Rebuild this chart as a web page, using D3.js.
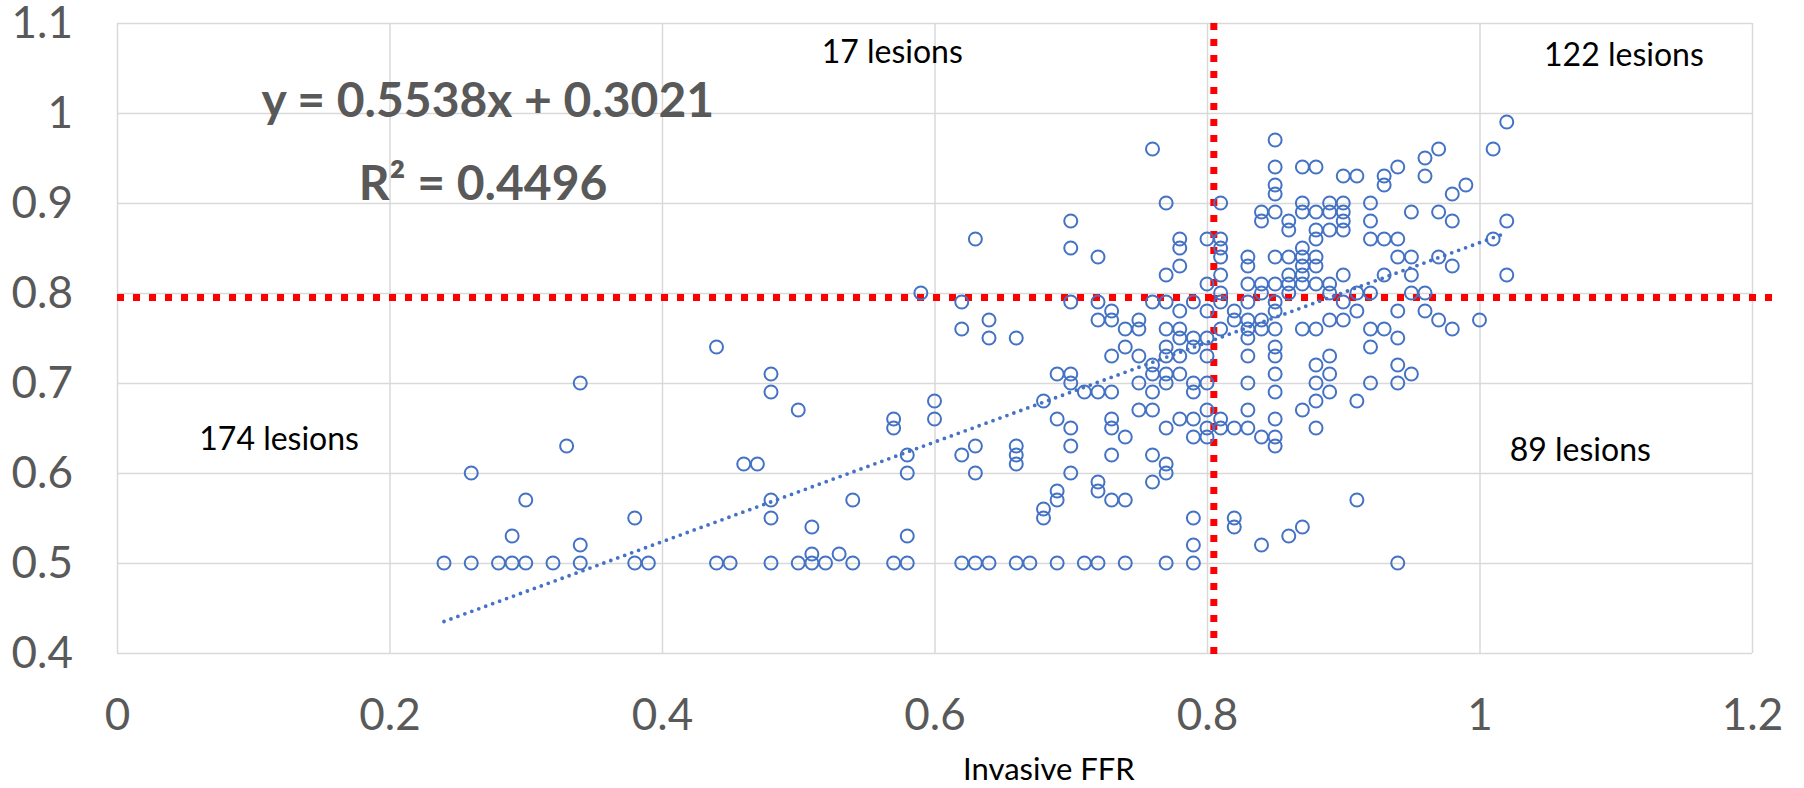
<!DOCTYPE html>
<head>
  <meta charset="utf-8">
  <script src="https://d3js.org/d3.v7.min.js"></script>
  <style>
    body { margin:0; background-color: white; }
    text { font-family: 'Lato', sans-serif; }
    .grid line { stroke: #d9d9d9; stroke-width: 1.5px; }
    .grid path { display: none; }
    .tick text { fill: #595959; font-size: 44px; }
    .lesions { font-size: 32px; fill: #000; }
    .fit { font-size: 48px; font-weight: bold; fill: #595959; }
  </style>
</head>
<body>
  <svg id="chart" width="1804" height="788"></svg>
  <script>
  // invasive FFR (x) and the matching CT value (y), one entry per lesion
  var ffr = [
    0.24, 0.26,0.26, 0.28, 0.29,0.29, 0.30,0.30, 0.32, 0.33, 0.34,0.34,0.34, 0.38,0.38, 0.39,
    0.44,0.44, 0.45, 0.46, 0.47, 0.48,0.48,0.48,0.48,0.48, 0.50,0.50, 0.51,0.51,0.51, 0.52, 0.53,
    0.54,0.54, 0.57,0.57,0.57, 0.58,0.58,0.58,0.58, 0.59, 0.60,0.60, 0.62,0.62,0.62,0.62,
    0.63,0.63,0.63,0.63, 0.64,0.64,0.64, 0.66,0.66,0.66,0.66,0.66, 0.67, 0.68,0.68,0.68,
    0.69,0.69,0.69,0.69,0.69, 0.70,0.70,0.70,0.70,0.70,0.70,0.70,0.70, 0.71,0.71,
    0.72,0.72,0.72,0.72,0.72,0.72,0.72, 0.73,0.73,0.73,0.73,0.73,0.73,0.73,0.73,
    0.74,0.74,0.74,0.74,0.74, 0.75,0.75,0.75,0.75,0.75, 0.76,0.76,0.76,0.76,0.76,0.76,0.76,0.76,
    0.77,0.77,0.77,0.77,0.77,0.77,0.77,0.77,0.77,0.77,0.77,0.77,
    0.78,0.78,0.78,0.78,0.78,0.78,0.78,0.78,0.78,
    0.79,0.79,0.79,0.79,0.79,0.79,0.79,0.79,0.79,0.79,
    0.80,0.80,0.80,0.80,0.80,0.80,0.80,0.80,0.80,
    0.81,0.81,0.81,0.81,0.81,0.81,0.81,0.81,0.81,0.81,
    0.82,0.82,0.82,0.82,0.82,
    0.83,0.83,0.83,0.83,0.83,0.83,0.83,0.83,0.83,0.83,0.83,
    0.84,0.84,0.84,0.84,0.84,0.84,0.84,0.84,
    0.85,0.85,0.85,0.85,0.85,0.85,0.85,0.85,0.85,0.85,0.85,0.85,0.85,0.85,0.85,0.85,0.85,
    0.86,0.86,0.86,0.86,0.86,0.86,0.86,
    0.87,0.87,0.87,0.87,0.87,0.87,0.87,0.87,0.87,0.87,0.87,
    0.88,0.88,0.88,0.88,0.88,0.88,0.88,0.88,0.88,0.88,0.88,0.88,
    0.89,0.89,0.89,0.89,0.89,0.89,0.89,0.89,0.89,
    0.90,0.90,0.90,0.90,0.90,0.90,0.90,0.90,
    0.91,0.91,0.91,0.91,0.91,
    0.92,0.92,0.92,0.92,0.92,0.92,0.92,
    0.93,0.93,0.93,0.93,0.93,
    0.94,0.94,0.94,0.94,0.94,0.94,0.94,0.94,
    0.95,0.95,0.95,0.95,0.95, 0.96,0.96,0.96,0.96, 0.97,0.97,0.97,0.97,
    0.98,0.98,0.98,0.98, 0.99, 1.00, 1.01,1.01, 1.02,1.02,1.02
  ];
  var ct = [
    0.50, 0.50,0.60, 0.50, 0.50,0.53, 0.50,0.57, 0.50, 0.63, 0.50,0.52,0.70, 0.50,0.55, 0.50,
    0.50,0.74, 0.50, 0.61, 0.61, 0.50,0.55,0.57,0.69,0.71, 0.50,0.67, 0.50,0.51,0.54, 0.50, 0.51,
    0.50,0.57, 0.50,0.65,0.66, 0.50,0.53,0.60,0.62, 0.80, 0.66,0.68, 0.50,0.62,0.76,0.79,
    0.50,0.60,0.63,0.86, 0.50,0.75,0.77, 0.50,0.61,0.62,0.63,0.75, 0.50, 0.55,0.56,0.68,
    0.50,0.57,0.58,0.66,0.71, 0.60,0.63,0.65,0.70,0.71,0.79,0.85,0.88, 0.50,0.69,
    0.50,0.58,0.59,0.69,0.77,0.79,0.84, 0.57,0.62,0.65,0.66,0.69,0.73,0.77,0.78,
    0.50,0.57,0.64,0.74,0.76, 0.67,0.70,0.73,0.76,0.77, 0.59,0.62,0.67,0.69,0.71,0.72,0.79,0.96,
    0.50,0.60,0.61,0.65,0.70,0.71,0.73,0.74,0.76,0.79,0.82,0.90,
    0.66,0.71,0.73,0.75,0.76,0.78,0.83,0.85,0.86,
    0.50,0.52,0.55,0.64,0.66,0.69,0.70,0.74,0.75,0.79,
    0.64,0.65,0.67,0.70,0.73,0.75,0.78,0.81,0.86,
    0.65,0.66,0.76,0.79,0.80,0.82,0.84,0.85,0.86,0.90,
    0.54,0.55,0.65,0.77,0.78,
    0.65,0.67,0.70,0.73,0.75,0.76,0.77,0.79,0.81,0.83,0.84,
    0.52,0.64,0.76,0.77,0.80,0.81,0.88,0.89,
    0.63,0.64,0.66,0.69,0.71,0.73,0.74,0.76,0.78,0.79,0.81,0.84,0.89,0.91,0.92,0.94,0.97,
    0.53,0.80,0.81,0.82,0.84,0.87,0.88,
    0.54,0.67,0.76,0.81,0.82,0.83,0.84,0.85,0.89,0.90,0.94,
    0.65,0.68,0.70,0.72,0.76,0.81,0.83,0.84,0.86,0.87,0.89,0.94,
    0.69,0.71,0.73,0.77,0.80,0.81,0.87,0.89,0.90,
    0.77,0.79,0.82,0.87,0.88,0.89,0.90,0.93,
    0.57,0.68,0.78,0.80,0.93,
    0.70,0.74,0.76,0.80,0.86,0.88,0.90,
    0.76,0.82,0.86,0.92,0.93,
    0.50,0.70,0.72,0.75,0.78,0.84,0.86,0.94,
    0.71,0.80,0.82,0.84,0.89, 0.78,0.80,0.93,0.95, 0.77,0.84,0.89,0.96,
    0.76,0.83,0.88,0.91, 0.92, 0.77, 0.86,0.96, 0.82,0.88,0.99
  ];

  var xTicks = [0, 0.2, 0.4, 0.6, 0.8, 1, 1.2];
  var xLabels = ["0", "0.2", "0.4", "0.6", "0.8", "1", "1.2"];
  var yTicks = [0.4, 0.5, 0.6, 0.7, 0.8, 0.9, 1, 1.1];
  var yLabels = ["0.4", "0.5", "0.6", "0.7", "0.8", "0.9", "1", "1.1"];

  // linear fit reported on the chart
  var slope = 0.5538, intercept = 0.3021, rSquared = "0.4496";
  var fitRange = [0.24, 1.02];
  var cutFFR = 0.805, cutCT = 0.795;

  var margin = {top: 23, right: 52, bottom: 135, left: 117},
      width = 1804 - margin.left - margin.right,
      height = 788 - margin.top - margin.bottom;

  var svg = d3.select("#chart")
    .append("g")
    .attr("transform", "translate(" + margin.left + "," + margin.top + ")");

  var x = d3.scaleLinear().domain([0, 1.2]).range([0, width]);
  var y = d3.scaleLinear().domain([0.4, 1.1]).range([height, 0]);

  // grid + tick labels
  svg.append("g")
    .attr("class", "grid")
    .attr("transform", "translate(0," + height + ")")
    .call(d3.axisBottom(x).tickValues(xTicks)
      .tickFormat(function(d, i) { return xLabels[i]; })
      .tickSize(-height).tickPadding(46));

  svg.append("g")
    .attr("class", "grid")
    .call(d3.axisLeft(y).tickValues(yTicks)
      .tickFormat(function(d, i) { return yLabels[i]; })
      .tickSize(-width).tickPadding(44));

  // threshold lines
  svg.append("line")
    .attr("x1", x(0)).attr("x2", x(1.2) + 25)
    .attr("y1", y(cutCT)).attr("y2", y(cutCT))
    .style("stroke", "#ff0000").style("stroke-width", 7)
    .style("stroke-dasharray", "7 9");

  svg.append("line")
    .attr("x1", x(cutFFR)).attr("x2", x(cutFFR))
    .attr("y1", y(1.1)).attr("y2", y(0.4) + 3)
    .style("stroke", "#ff0000").style("stroke-width", 7)
    .style("stroke-dasharray", "7 9");

  var points = ffr.map(function(d, i) { return {x: d, y: ct[i]}; });

  svg.selectAll(".dot")
    .data(points)
    .enter().append("circle")
    .attr("class", "dot")
    .attr("cx", function(d) { return x(d.x); })
    .attr("cy", function(d) { return y(d.y); })
    .attr("r", 6.5)
    .style("fill", "none")
    .style("stroke", "#4472c4")
    .style("stroke-width", 2);

  // trend line, dotted
  var line = d3.line()
    .x(function(d) { return x(d); })
    .y(function(d) { return y(slope * d + intercept); });

  svg.append("path")
    .datum(fitRange)
    .attr("d", line)
    .style("fill", "none")
    .style("stroke", "#4472c4")
    .style("stroke-width", 3.8)
    .style("stroke-linecap", "round")
    .style("stroke-dasharray", "0 7.4");

  svg.append("text")
    .attr("class", "fit")
    .attr("x", x(0.106)).attr("y", y(0.9956))
    .text("y = " + slope + "x + " + intercept);

  svg.append("text")
    .attr("class", "fit")
    .attr("x", x(0.1774)).attr("y", y(0.9035))
    .text("R² = " + rSquared);

  var quadrants = [
    {label: "17 lesions", x: 0.569, y: 1.0556},
    {label: "122 lesions", x: 1.106, y: 1.052},
    {label: "174 lesions", x: 0.119, y: 0.626},
    {label: "89 lesions", x: 1.074, y: 0.613}
  ];

  svg.selectAll(".lesions")
    .data(quadrants)
    .enter().append("text")
    .attr("class", "lesions")
    .attr("x", function(d) { return x(d.x); })
    .attr("y", function(d) { return y(d.y); })
    .style("text-anchor", "middle")
    .text(function(d) { return d.label; });

  svg.append("text")
    .attr("x", x(0.684)).attr("y", height + 127)
    .style("text-anchor", "middle")
    .style("font-size", "31px")
    .style("fill", "#000")
    .text("Invasive FFR");
  </script>
</body>
